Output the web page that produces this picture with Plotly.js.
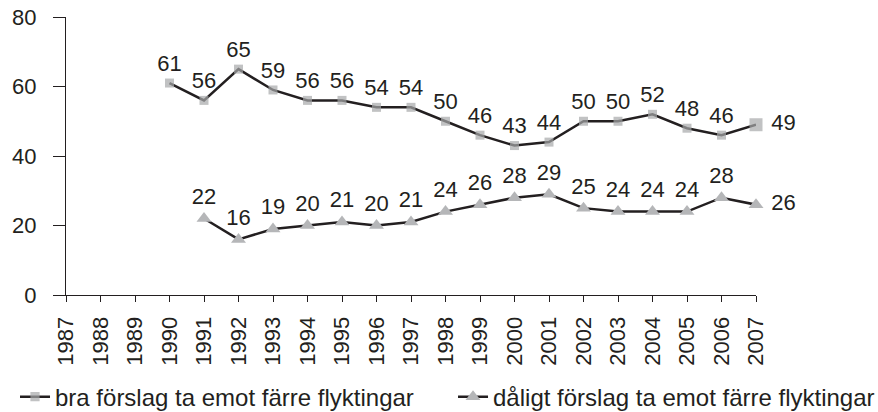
<!DOCTYPE html>
<html><head><meta charset="utf-8">
<script src="https://cdn.plot.ly/plotly-3.0.1.min.js"></script>
<style>body{margin:0;background:#fff}#c{width:878px;height:412px}</style>
</head><body><div id="c"></div>
<script>
const years = [1987,1988,1989,1990,1991,1992,1993,1994,1995,1996,1997,1998,1999,2000,2001,2002,2003,2004,2005,2006,2007];
const braYears = [1990,1991,1992,1993,1994,1995,1996,1997,1998,1999,2000,2001,2002,2003,2004,2005,2006,2007];
const braValues = [61,56,65,59,56,56,54,54,50,46,43,44,50,50,52,48,46,49];
const daligtYears = [1991,1992,1993,1994,1995,1996,1997,1998,1999,2000,2001,2002,2003,2004,2005,2006,2007];
const daligtValues = [22,16,19,20,21,20,21,24,26,28,29,25,24,24,24,28,26];
const braName = 'bra förslag ta emot färre flyktingar';
const daligtName = 'dåligt förslag ta emot färre flyktingar';

const font = 'Liberation Sans, Arial, Helvetica, sans-serif';
function pos(n){ return Array.from({length:n},(_,i)=> i===n-1 ? 'middle right' : 'top center'); }
function sizes(n,a,b){ return Array.from({length:n},(_,i)=> i===n-1 ? b : a); }
function labels(v){ return v.map((d,i)=> i===v.length-1 ? ' ' + d : String(d)); }

const traces = [
  {x: braYears, y: braValues, name: braName, type:'scatter', mode:'lines+markers+text',
   text: labels(braValues), textposition: pos(braValues.length),
   textfont:{family:font, size:22, color:'#231f20'},
   line:{color:'#231f20', width:2.5},
   marker:{symbol:'square', size:sizes(braValues.length,9,13), color:'#a7a8aa', line:{width:0}},
   legend:'legend', cliponaxis:false},
  {x: daligtYears, y: daligtValues, name: daligtName, type:'scatter', mode:'lines+markers+text',
   text: labels(daligtValues), textposition: pos(daligtValues.length),
   textfont:{family:font, size:22, color:'#231f20'},
   line:{color:'#231f20', width:2.5},
   marker:{symbol:'triangle-up', size:13, color:'#b5b6b8', line:{width:0}},
   legend:'legend2', cliponaxis:false}
];

const layout = {
  width:878, height:412,
  margin:{l:66, r:122, t:17, b:117, autoexpand:false},
  paper_bgcolor:'#fff', plot_bgcolor:'#fff',
  font:{family:font, size:22, color:'#231f20'},
  showlegend:true,
  xaxis:{range:[1987,2007], tickmode:'array', tickvals:years, ticktext:years.map(String),
    tickangle:-90, ticks:'outside', ticklen:6, tickcolor:'#231f20', showline:true, linecolor:'#231f20', linewidth:1,
    showgrid:false, zeroline:false, fixedrange:true, tickfont:{size:22}, automargin:false, ticklabelstandoff:6},
  yaxis:{range:[0,80], tickvals:[0,20,40,60,80], ticks:'outside', ticklen:12, tickcolor:'#231f20',
    showline:true, linecolor:'#231f20', linewidth:1, showgrid:false, zeroline:false, tickfont:{size:22}, automargin:false, ticklabelstandoff:12},
  legend:{orientation:'h', x:-0.0739, xanchor:'left', y:-0.367, yanchor:'middle', font:{size:24}, bgcolor:'rgba(0,0,0,0)', itemwidth:30},
  legend2:{orientation:'h', x:0.5609, xanchor:'left', y:-0.367, yanchor:'middle', font:{size:24}, bgcolor:'rgba(0,0,0,0)', itemwidth:30}
};
Plotly.newPlot('c', traces, layout, {displayModeBar:false, staticPlot:true});
</script></body></html>
